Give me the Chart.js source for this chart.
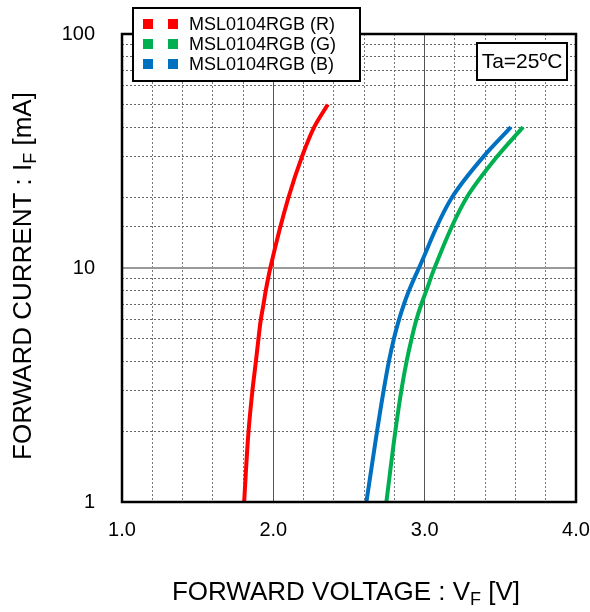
<!DOCTYPE html>
<html>
<head>
<meta charset="utf-8">
<script src="https://cdn.jsdelivr.net/npm/chart.js@4"></script>
<style>
  body { margin: 0; background: #fff; }
</style>
</head>
<body>
<canvas id="ivChart" width="590" height="612"></canvas>
<script>
// Forward current vs forward voltage, Ta=25ºC
const seriesLabels = ["MSL0104RGB (R)", "MSL0104RGB (G)", "MSL0104RGB (B)"];
const seriesColors = ["#FF0000", "#00B050", "#0070C0"];

const redCurrent = [1, 2, 3, 4, 5, 6, 7, 8, 10, 20, 30, 40, 50];
const redVoltage = [1.807, 1.836, 1.862, 1.885, 1.902, 1.917, 1.935, 1.95, 1.98, 2.10, 2.19, 2.27, 2.36];

const greenCurrent = [1, 2, 3, 4, 5, 6, 7, 8, 10, 20, 30, 40];
const greenVoltage = [2.747, 2.806, 2.846, 2.881, 2.914, 2.945, 2.978, 3.011, 3.065, 3.278, 3.48, 3.65];

const blueCurrent = [1, 2, 3, 4, 5, 6, 7, 8, 10, 20, 30, 40];
const blueVoltage = [2.615, 2.685, 2.729, 2.764, 2.797, 2.83, 2.863, 2.896, 2.962, 3.18, 3.39, 3.57];

const xTickLabels = ["1.0", "2.0", "3.0", "4.0"];
const yTickLabels = ["1", "10", "100"];

const FONT = "'Liberation Sans', Arial, sans-serif";

function toPoints(volts, amps) {
  return volts.map((v, i) => ({ x: v, y: amps[i] }));
}

function isMajor(v) {
  return Math.abs(v - Math.round(v)) < 1e-6;
}

// draw text with a subscript part, centred on x
function drawSubText(ctx, parts, x, y, size) {
  const subSize = Math.round(size * 0.68);
  let total = 0;
  parts.forEach(p => {
    ctx.font = (p.sub ? subSize : size) + "px " + FONT;
    p.w = ctx.measureText(p.t).width;
    total += p.w;
  });
  let cx = x - total / 2;
  ctx.textAlign = "left";
  ctx.textBaseline = "alphabetic";
  parts.forEach(p => {
    ctx.font = (p.sub ? subSize : size) + "px " + FONT;
    ctx.fillText(p.t, cx, p.sub ? y + 5 : y);
    cx += p.w;
  });
}

const decorPlugin = {
  id: "decor",
  afterDraw(chart) {
    const ctx = chart.ctx;
    const a = chart.chartArea;
    ctx.save();

    // plot frame
    ctx.strokeStyle = "#000";
    ctx.lineWidth = 2.5;
    ctx.strokeRect(a.left, a.top, a.right - a.left, a.bottom - a.top);

    // legend box
    ctx.fillStyle = "#fff";
    ctx.fillRect(133, 8, 227, 73);
    ctx.lineWidth = 2;
    ctx.strokeRect(133, 8, 227, 73);
    const rows = [24, 44, 64];
    chart.data.datasets.forEach((ds, i) => {
      ctx.fillStyle = ds.borderColor;
      ctx.fillRect(143, rows[i] - 5, 10, 10);
      ctx.fillRect(168, rows[i] - 5, 10, 10);
      ctx.fillStyle = "#000";
      ctx.font = "18px " + FONT;
      ctx.textAlign = "left";
      ctx.textBaseline = "middle";
      ctx.fillText(ds.label, 189, rows[i] + 1);
    });

    // temperature note
    ctx.fillStyle = "#fff";
    ctx.fillRect(477, 43, 90, 37);
    ctx.strokeRect(477, 43, 90, 37);
    ctx.fillStyle = "#000";
    ctx.font = "21px " + FONT;
    ctx.textAlign = "center";
    ctx.textBaseline = "middle";
    ctx.fillText("Ta=25ºC", 522, 62);

    // axis titles
    ctx.fillStyle = "#000";
    drawSubText(ctx, [{ t: "FORWARD VOLTAGE : V" }, { t: "F", sub: true }, { t: " [V]" }], 346, 600, 26);
    ctx.translate(31, 276);
    ctx.rotate(-Math.PI / 2);
    drawSubText(ctx, [{ t: "FORWARD CURRENT : I" }, { t: "F", sub: true }, { t: " [mA]" }], 0, 0, 26);
    ctx.restore();
  }
};

const ctx = document.getElementById("ivChart").getContext("2d");
new Chart(ctx, {
  type: "line",
  data: {
    datasets: [
      { label: seriesLabels[0], data: toPoints(redVoltage, redCurrent), borderColor: seriesColors[0] },
      { label: seriesLabels[1], data: toPoints(greenVoltage, greenCurrent), borderColor: seriesColors[1] },
      { label: seriesLabels[2], data: toPoints(blueVoltage, blueCurrent), borderColor: seriesColors[2] },
    ],
  },
  options: {
    responsive: false,
    animation: false,
    indexAxis: "y", // current rises monotonically, so interpolate along y
    layout: { padding: { left: 0, top: 34, right: 14, bottom: 0 } },
    elements: {
      line: { borderWidth: 4, cubicInterpolationMode: "monotone", fill: false },
      point: { radius: 0 },
    },
    plugins: {
      legend: { display: false },
      tooltip: { enabled: false },
    },
    scales: {
      x: {
        type: "linear",
        min: 1,
        max: 4,
        afterFit(scale) {
          scale.height = 110;
          scale.paddingLeft = 0;
          scale.paddingRight = 0;
        },
        ticks: {
          stepSize: 0.2,
          autoSkip: false,
          maxRotation: 0,
          padding: 16,
          color: "#000",
          font: { size: 20, family: FONT },
          callback: (v) => (isMajor(v) && xTickLabels.includes(v.toFixed(1)) ? v.toFixed(1) : ""),
        },
        grid: {
          drawTicks: false,
          color: (c) => (c.tick && isMajor(c.tick.value) ? "#555" : "#777"),
          lineWidth: 1,
        },
        border: {
          display: false,
          dash: (c) => (c.tick && isMajor(c.tick.value) ? [] : [2, 2]),
        },
      },
      y: {
        type: "logarithmic",
        min: 1,
        max: 100,
        afterFit(scale) {
          scale.width = 122;
          scale.paddingTop = 0;
          scale.paddingBottom = 0;
        },
        ticks: {
          autoSkip: false,
          padding: 27,
          color: "#000",
          font: { size: 20, family: FONT },
          callback: (v) => (yTickLabels.includes(String(v)) ? String(v) : ""),
        },
        grid: {
          drawTicks: false,
          color: (c) => (c.tick && c.tick.value === 10 ? "#999" : "#666"),
          lineWidth: (c) => (c.tick && c.tick.value === 10 ? 2 : 1),
        },
        border: {
          display: false,
          dash: (c) => (c.tick && c.tick.value === 10 ? [] : [2, 2]),
        },
      },
    },
  },
  plugins: [decorPlugin],
});
</script>
</body>
</html>
